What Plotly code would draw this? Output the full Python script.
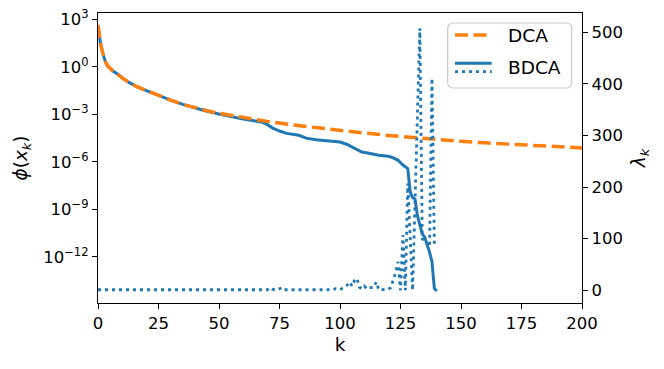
import numpy as np
import plotly.graph_objects as go

# ---- data ----
dca_k = [0, 1, 2, 3, 4, 5, 6, 8, 10, 13, 16, 20, 25, 30, 35, 40, 45, 50, 55, 60, 65, 70,
         80, 90, 100, 110, 120, 130, 140, 150, 160, 170, 180, 190, 200]
dca_log_phi = [2.65, 1.5, 0.85, 0.35, 0.05, -0.12, -0.25, -0.45, -0.7, -1.0, -1.25, -1.5,
               -1.82, -2.1, -2.37, -2.58, -2.77, -2.93, -3.07, -3.2, -3.32, -3.45,
               -3.66, -3.85, -4.0, -4.18, -4.33, -4.47, -4.6, -4.7, -4.8, -4.88, -4.96,
               -5.04, -5.12]

bdca_k = [0, 1, 2, 3, 4, 5, 6, 8, 10, 13, 16, 20, 25, 30, 35, 40, 45, 50, 55, 60, 65, 68,
          70, 72, 75, 78, 83, 86, 90, 97, 100, 103, 105, 107, 109, 112, 116, 120, 122,
          124, 126, 128, 129, 130, 131, 132, 133, 134, 135, 136, 137, 138, 139, 140]
bdca_log_phi = [2.65, 1.5, 0.85, 0.35, 0.05, -0.12, -0.25, -0.45, -0.7, -1.0, -1.25, -1.5,
                -1.82, -2.1, -2.37, -2.6, -2.8, -2.98, -3.15, -3.3, -3.42, -3.5,
                -3.65, -3.85, -4.05, -4.2, -4.32, -4.5, -4.6, -4.69, -4.75, -4.9, -5.05,
                -5.25, -5.38, -5.45, -5.58, -5.65, -5.75, -5.9, -6.2, -6.42, -7.9, -8.25,
                -8.35, -9.4, -10.0, -10.55, -10.75, -11.2, -11.7, -12.3, -14.0, -14.15]

lambda_k = list(range(140))
lambda_vals = [
    1, 1, 1, 1, 1, 1, 1, 1, 1, 1,
    1, 1, 1, 1, 1, 1, 1, 1, 1, 1,
    1, 1, 1, 1, 1, 1, 1, 1, 1, 1,
    1, 1, 1, 1, 1, 1, 1, 1, 1, 1,
    1, 1, 1, 1, 1, 1, 1, 1, 1, 1,
    1, 1, 1, 1, 1, 1, 1, 1, 1, 1,
    1, 1, 1, 1, 1, 1, 1, 1, 1, 1,
    1, 5, 2, 1, 1, 3, 5, 1, 1, 1,
    1, 1, 2, 1, 1, 1, 1, 2, 1, 1,
    1, 1, 1, 1, 1, 1, 1, 1, 3, 2,
    1, 4, 6, 10, 16, 8, 19, 23, 6, 3,
    8, 3, 6, 5, 6, 16, 1, 1, 1, 1,
    2, 5, 19, 35, 55, 0, 107, 0, 207, 100,
    0, 170, 340, 508, 100, 95, 90, 84, 411, 84,
]

x_ticks = [0, 25, 50, 75, 100, 125, 150, 175, 200]
y_exps = [3, 0, -3, -6, -9, -12]
y_tickvals = [10.0 ** e for e in y_exps]
y_ticktext = ["10<sup>%s</sup>" % (str(e).replace("-", "\u2212")) for e in y_exps]
y2_ticks = [0, 100, 200, 300, 400, 500]

BLUE = "#1f77b4"
ORANGE = "#ff7f0e"
FONT = "DejaVu Sans"
TICK_SIZE = 16.5
TITLE_SIZE = 18.5
LEGEND_SIZE = 18.5

fig = go.Figure()
fig.add_trace(go.Scatter(x=bdca_k, y=np.power(10.0, bdca_log_phi), mode="lines",
                         line=dict(color=BLUE, width=3), name="BDCA", showlegend=False))
fig.add_trace(go.Scatter(x=dca_k, y=np.power(10.0, dca_log_phi), mode="lines",
                         line=dict(color=ORANGE, width=3.5, dash="13px,5.5px"),
                         name="DCA", showlegend=False))
fig.add_trace(go.Scatter(x=lambda_k, y=lambda_vals, mode="lines", yaxis="y2",
                         line=dict(color=BLUE, width=2.8, dash="3px,4px"),
                         name="BDCA λ", showlegend=False))

axis_common = dict(showline=True, linecolor="black", linewidth=1.3, ticks="outside",
                   ticklen=5, tickwidth=1.3, tickcolor="black", showgrid=False,
                   zeroline=False, automargin=False, ticklabeloverflow="allow",
                   tickfont=dict(family=FONT, size=TICK_SIZE, color="black"))

# page body adds an 8px offset, so margins are shifted to compensate
fig.update_layout(
    width=664, height=369,
    margin=dict(l=90, r=90, t=5, b=74, autoexpand=False),
    plot_bgcolor="white", paper_bgcolor="white",
    font=dict(family=FONT, color="black"),
    xaxis=dict(range=[0, 200], tickvals=x_ticks, mirror=True,
               title=dict(text="k", font=dict(family=FONT, size=TITLE_SIZE), standoff=6),
               **axis_common),
    yaxis=dict(type="log", range=[-14.91, 3.4], tickvals=y_tickvals, ticktext=y_ticktext,
               mirror=True,
               title=dict(text="<i>ϕ</i>(<i>x<sub>k</sub></i>)",
                          font=dict(family=FONT, size=TITLE_SIZE), standoff=10),
               **axis_common),
    yaxis2=dict(overlaying="y", side="right", range=[-24.7, 537.5], tickvals=y2_ticks,
                title=dict(text="<i>λ<sub>k</sub></i>",
                           font=dict(family=FONT, size=TITLE_SIZE), standoff=10),
                **axis_common),
)

# custom legend (matplotlib style: BDCA has a solid and a dotted sample)
def px_x(p):
    return (p - 98) / 484.0

def px_y(p):
    return (303 - p) / 290.0

x0, x1, y0, y1, r = px_x(447.7), px_x(571.7), px_y(88), px_y(23), 0.012
ry = r * 484 / 290
path = (f"M {x0 + r},{y1} L {x1 - r},{y1} Q {x1},{y1} {x1},{y1 - ry} "
        f"L {x1},{y0 + ry} Q {x1},{y0} {x1 - r},{y0} L {x0 + r},{y0} "
        f"Q {x0},{y0} {x0},{y0 + ry} L {x0},{y1 - ry} Q {x0},{y1} {x0 + r},{y1} Z")
fig.add_shape(type="path", path=path, xref="paper", yref="paper",
              line=dict(color="#cccccc", width=1.2), fillcolor="rgba(255,255,255,0.8)")
lx0, lx1 = px_x(455), px_x(491.7)
fig.add_shape(type="line", xref="paper", yref="paper", x0=lx0, x1=lx1, y0=px_y(35), y1=px_y(35),
              line=dict(color=ORANGE, width=3.5, dash="13px,5.5px"))
fig.add_shape(type="line", xref="paper", yref="paper", x0=lx0, x1=lx1, y0=px_y(63.3), y1=px_y(63.3),
              line=dict(color=BLUE, width=3))
fig.add_shape(type="line", xref="paper", yref="paper", x0=lx0, x1=lx1, y0=px_y(71.7), y1=px_y(71.7),
              line=dict(color=BLUE, width=2.8, dash="3px,4px"))
fig.add_annotation(text="DCA", xref="paper", yref="paper", x=px_x(506), y=px_y(35),
                   xanchor="left", yanchor="middle", showarrow=False,
                   font=dict(family=FONT, size=LEGEND_SIZE, color="black"))
fig.add_annotation(text="BDCA", xref="paper", yref="paper", x=px_x(506), y=px_y(67.5),
                   xanchor="left", yanchor="middle", showarrow=False,
                   font=dict(family=FONT, size=LEGEND_SIZE, color="black"))

fig.write_html("out.html")
